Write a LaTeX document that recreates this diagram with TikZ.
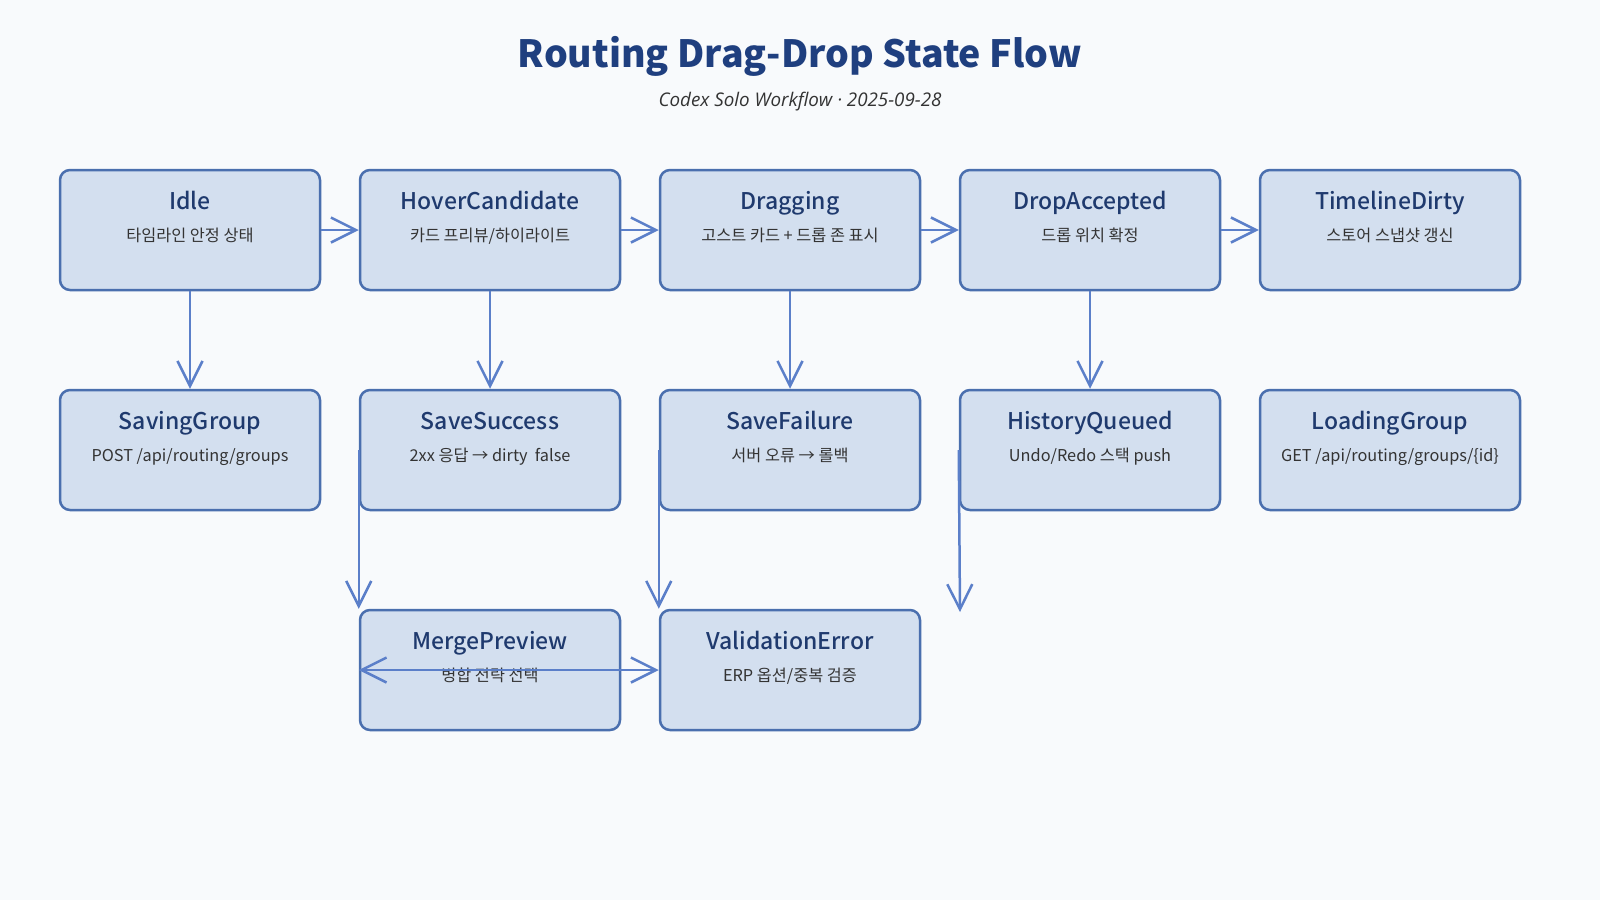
\documentclass[tikz,border=0pt]{standalone}
\usepackage{fontspec}
\setmainfont{Noto Sans CJK KR}
\newfontfamily\medfont{Noto Sans CJK KR Medium}
\newfontfamily\itfont{Open Sans}
\usetikzlibrary{arrows.meta}
\definecolor{bgc}{HTML}{F8FAFC}
\definecolor{boxfill}{HTML}{D3DFEF}
\definecolor{boxline}{HTML}{4A6FAE}
\definecolor{arrc}{HTML}{5B7FC9}
\definecolor{titlec}{HTML}{1F3F7F}
\definecolor{nodetc}{HTML}{1F3A6E}
\definecolor{subc}{HTML}{333333}
\tikzset{
  statebox/.style={draw=boxline, fill=boxfill, line width=2.5pt, rounded corners=10pt,
    minimum width=260pt, minimum height=120pt, inner sep=0pt},
  stitle/.style={anchor=base, text=nodetc, font=\medfont\fontsize{23}{26}\selectfont, inner sep=0pt},
  ssub/.style={anchor=base, text=subc, font=\fontsize{16.3}{18}\selectfont, inner sep=0pt},
  flow/.style={draw=arrc, line width=2.5pt, -{Straight Barb[length=25pt,width=25pt,line width=2.5pt]}},
  flowboth/.style={draw=arrc, line width=2.5pt, {Straight Barb[length=25pt,width=25pt,line width=2.5pt]}-{Straight Barb[length=25pt,width=25pt,line width=2.5pt]}}
}
\newcommand{\statenode}[4]{%
  \node[statebox] (#1) at (#2) {};
  \node[stitle] (#1-t) at ([yshift=21pt]#1.center) {#3};
  \node[ssub] (#1-s) at ([yshift=-11pt]#1.center) {#4};
}
\begin{document}
\begin{tikzpicture}[x=1pt,y=-1pt]
\fill[bgc] (0,0) rectangle (1600,900);
\useasboundingbox (0,0) rectangle (1600,900);
\node[anchor=base, text=titlec, font=\fontsize{37.5}{42}\selectfont\bfseries, inner sep=0pt] (title) at (800,67) {Routing Drag-Drop State Flow};
\node[anchor=base, text=subc, font=\itfont\itshape\fontsize{18.8}{22}\selectfont, inner sep=0pt] (subtitle) at (800,106) {Codex Solo Workflow · 2025-09-28};

\statenode{idle}{190,230}{Idle}{타임라인 안정 상태}
\statenode{hover}{490,230}{HoverCandidate}{카드 프리뷰/하이라이트}
\statenode{drag}{790,230}{Dragging}{고스트 카드 + 드롭 존 표시}
\statenode{drop}{1090,230}{DropAccepted}{드롭 위치 확정}
\statenode{dirty}{1390,230}{TimelineDirty}{스토어 스냅샷 갱신}

\statenode{saving}{190,450}{SavingGroup}{POST /api/routing/groups}
\statenode{succ}{490,450}{SaveSuccess}{2xx 응답 → dirty\ \ false}
\statenode{fail}{790,450}{SaveFailure}{서버 오류 → 롤백}
\statenode{hist}{1090,450}{HistoryQueued}{Undo/Redo 스택 push}
\statenode{load}{1390,450}{LoadingGroup}{GET /api/routing/groups/\{id\}}

\statenode{merge}{490,670}{MergePreview}{병합 전략 선택}
\statenode{valid}{790,670}{ValidationError}{ERP 옵션/중복 검증}

\coordinate (histend) at (960,612);

\draw[flow] (idle.east) -- (hover.west);
\draw[flow] (hover.east) -- (drag.west);
\draw[flow] (drag.east) -- (drop.west);
\draw[flow] (drop.east) -- (dirty.west);

\draw[flow] (idle.south) -- (saving.north);
\draw[flow] (hover.south) -- (succ.north);
\draw[flow] (drag.south) -- (fail.north);
\draw[flow] (drop.south) -- (hist.north);

\draw[flow] (succ.west) -- (merge.north west);
\draw[flow] (fail.west) -- (valid.north west);
\draw[flow] (hist.west) -- (histend);

\draw[flowboth] (merge.west) -- (valid.west);
\end{tikzpicture}
\end{document}
